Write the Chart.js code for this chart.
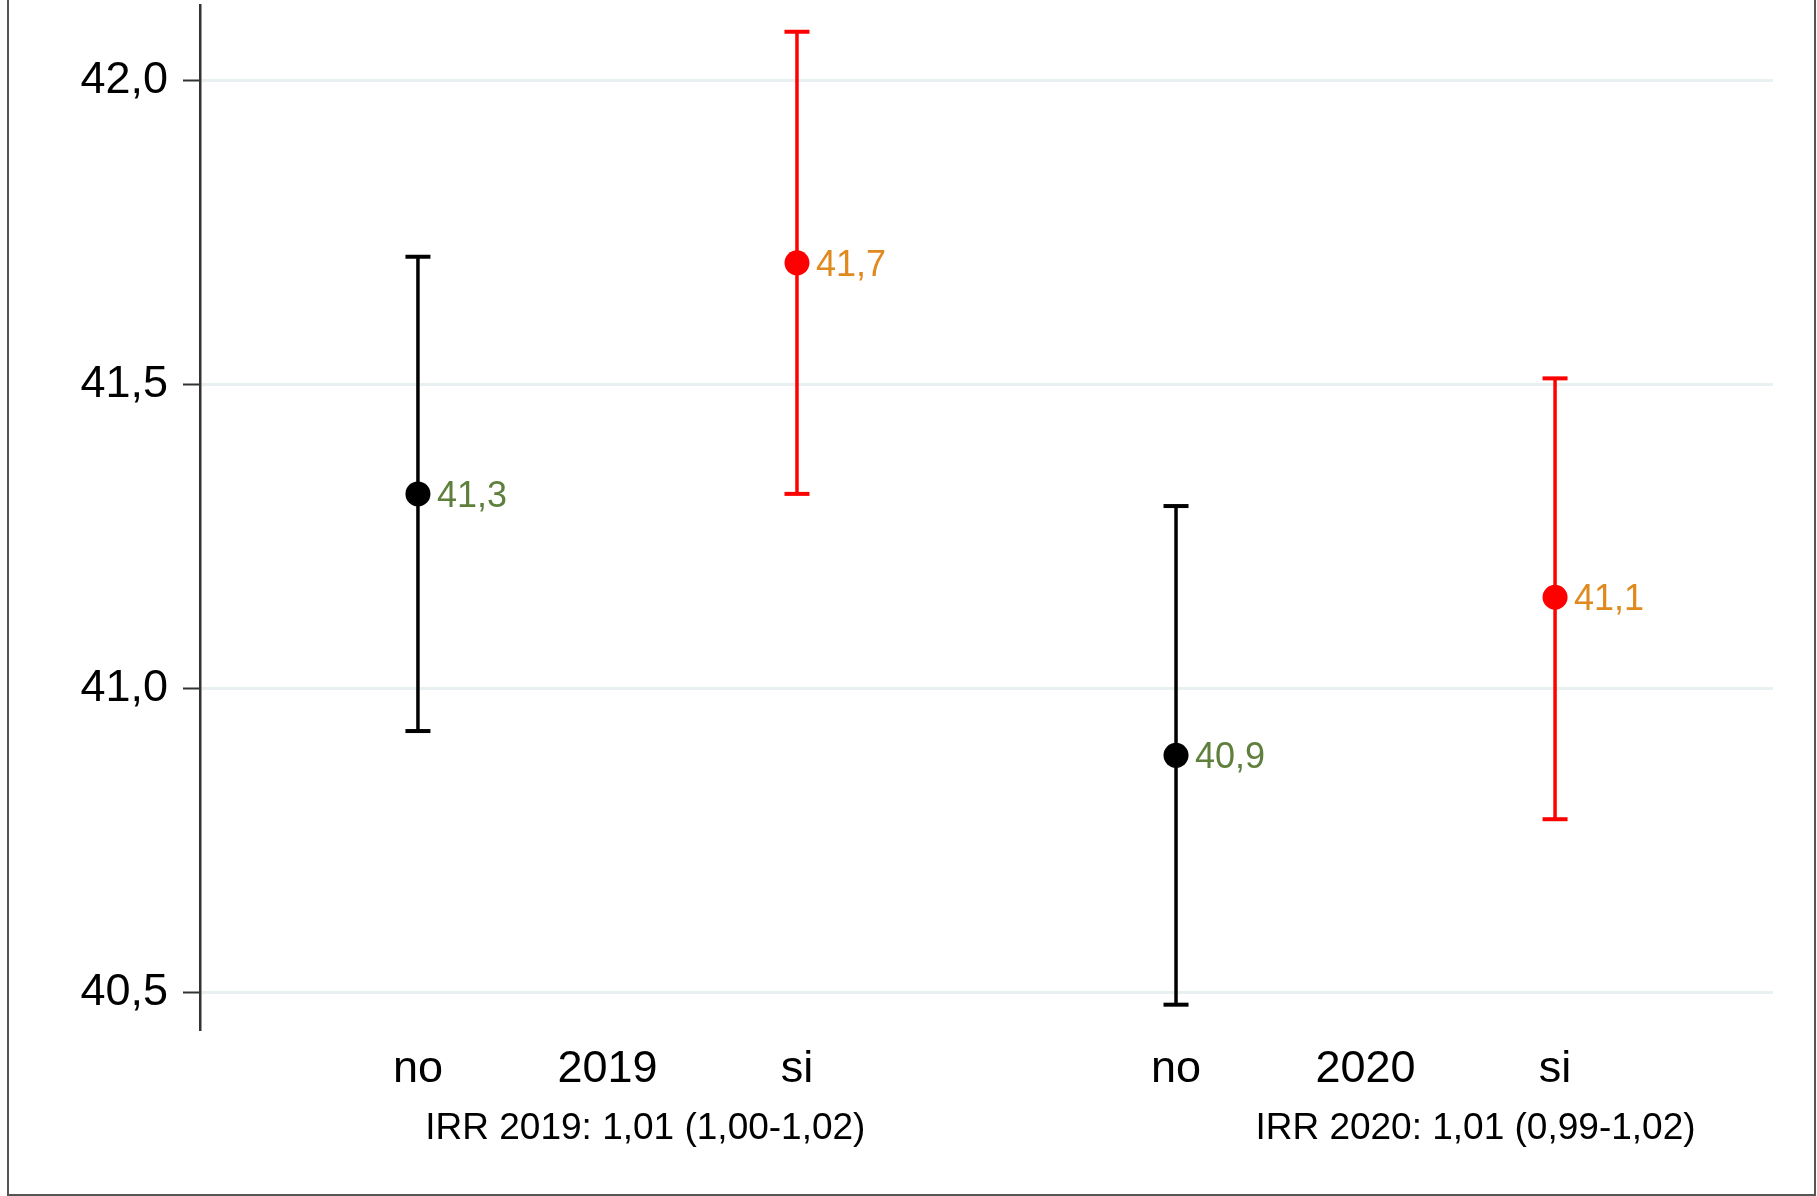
<!DOCTYPE html>
<html>
<head>
<meta charset="utf-8">
<script src="https://cdn.jsdelivr.net/npm/chart.js@4/dist/chart.umd.min.js"></script>
<style>
  html, body { margin: 0; padding: 0; background: #fff; }
  #wrap { width: 1817px; height: 1196px; position: relative; }
</style>
</head>
<body>
<div id="wrap"><canvas id="irrChart" width="1817" height="1196"></canvas></div>
<script>
// Data
const groups = ['no', 'si', 'no', 'si'];
const years = ['2019', '2020'];
const means = [41.32, 41.70, 40.89, 41.15];
const lower = [40.93, 41.32, 40.48, 40.785];
const upper = [41.71, 42.08, 41.30, 41.51];
const valueLabels = ['41,3', '41,7', '40,9', '41,1'];
const irrLabels = ['IRR 2019: 1,01 (1,00-1,02)', 'IRR 2020: 1,01 (0,99-1,02)'];
const yTicks = [40.5, 41.0, 41.5, 42.0];

const FONT = "'Liberation Sans', Arial, sans-serif";
const barColor = i => groups[i] === 'si' ? '#ff0000' : '#000000';
const labelColor = i => groups[i] === 'si' ? '#e0891f' : '#5f7f3d';

// x positions: one slot per group, year label between its two groups
const xOf = i => i + 1;
const xTicks = [];
const xTickText = {};
years.forEach((yr, k) => {
    const a = xOf(k * 2), b = xOf(k * 2 + 1);
    xTicks.push(a, (a + b) / 2, b);
    xTickText[a] = groups[k * 2];
    xTickText[(a + b) / 2] = yr;
    xTickText[b] = groups[k * 2 + 1];
});

const datasets = [];
means.forEach((m, i) => {
    // error bar with caps
    datasets.push({
        type: 'line',
        data: [{ x: xOf(i), y: lower[i] }, { x: xOf(i), y: upper[i] }],
        borderColor: barColor(i),
        borderWidth: 3.5,
        pointStyle: 'line',
        pointRadius: 12.5,
        pointBorderWidth: 4,
        pointBorderColor: barColor(i),
        clip: false,
        order: 2
    });
});
datasets.push({
    type: 'scatter',
    data: means.map((m, i) => ({ x: xOf(i), y: m })),
    backgroundColor: means.map((m, i) => barColor(i)),
    borderColor: means.map((m, i) => barColor(i)),
    pointRadius: 12.5,
    borderWidth: 0,
    clip: false,
    order: 0
});

// value labels, IRR notes and outer frame
const extras = {
    id: 'extras',
    beforeDraw(chart) {
        const c = chart.ctx;
        c.save();
        c.strokeStyle = '#555';
        c.lineWidth = 2;
        c.beginPath();
        c.moveTo(8, 0); c.lineTo(8, 1195); c.lineTo(1815, 1195); c.lineTo(1815, 0);
        c.stroke();
        c.restore();
    },
    afterDraw(chart) {
        const c = chart.ctx;
        const xs = chart.scales.x, ys = chart.scales.y;
        c.save();
        c.font = '36px ' + FONT;
        c.textAlign = 'left';
        c.textBaseline = 'alphabetic';
        means.forEach((m, i) => {
            c.fillStyle = labelColor(i);
            c.fillText(valueLabels[i], xs.getPixelForValue(xOf(i)) + 19, ys.getPixelForValue(m) + 13);
        });
        c.fillStyle = '#000';
        c.font = '37px ' + FONT;
        c.textAlign = 'center';
        c.textBaseline = 'middle';
        const irrX = [1.6, 3.79];
        irrLabels.forEach((t, k) => {
            c.fillText(t, xs.getPixelForValue(irrX[k]), 1129);
        });
        c.restore();
    }
};

new Chart(document.getElementById('irrChart'), {
    data: { datasets: datasets },
    options: {
        responsive: false,
        animation: false,
        events: [],
        layout: { autoPadding: false, padding: { left: 0, right: 44, top: 5, bottom: 0 } },
        plugins: { legend: { display: false }, tooltip: { enabled: false } },
        scales: {
            x: {
                type: 'linear',
                min: 0.425,
                max: 4.575,
                grid: { display: false, drawTicks: false },
                border: { display: false },
                afterBuildTicks: axis => { axis.ticks = xTicks.map(v => ({ value: v })); },
                afterFit: axis => { axis.height = 167; axis.paddingLeft = 0; axis.paddingRight = 0; },
                ticks: {
                    color: '#000',
                    font: { family: FONT, size: 45 },
                    padding: 14,
                    maxRotation: 0,
                    autoSkip: false,
                    callback: v => xTickText[v]
                }
            },
            y: {
                min: 40.44,
                max: 42.124,
                grid: { color: '#e9f0f1', lineWidth: 3, tickLength: 17, tickColor: '#333', tickWidth: 2 },
                border: { display: true, color: '#333', width: 2.5 },
                afterBuildTicks: axis => { axis.ticks = yTicks.map(v => ({ value: v })); },
                afterFit: axis => { axis.width = 200; axis.paddingTop = 0; axis.paddingBottom = 0; },
                ticks: {
                    color: '#000',
                    font: { family: FONT, size: 45 },
                    padding: 15,
                    callback: v => v.toFixed(1).replace('.', ',')
                }
            }
        }
    },
    plugins: [extras]
});
</script>
</body>
</html>
